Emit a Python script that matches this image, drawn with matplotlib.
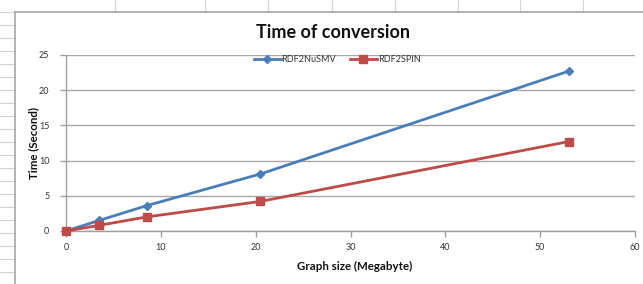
import matplotlib
matplotlib.use("Agg")
import matplotlib.pyplot as plt
from matplotlib.lines import Line2D

# Data
sizes = [0, 3.5, 8.5, 20.5, 53]
nusmv = [0, 1.5, 3.6, 8.1, 22.7]
spin = [0, 0.8, 2.0, 4.2, 12.7]
x_ticks = [0, 10, 20, 30, 40, 50, 60]
y_ticks = [0, 5, 10, 15, 20, 25]

W, H = 643, 284
fig = plt.figure(figsize=(W / 100, H / 100), dpi=100)
fig.patch.set_facecolor("white")
plt.rcParams['font.family'] = ['Lato', 'DejaVu Sans']

def fx(px):
    return px / W

def fy(py):
    return 1 - py / H

grid_c = "#d4d4d4"
# spreadsheet row ticks at left
for py in range(12, 284, 13):
    fig.add_artist(Line2D([fx(0), fx(15)], [fy(py), fy(py)], color=grid_c, lw=0.8))
# spreadsheet column ticks at top
for px in [115, 205, 268, 332, 395, 458, 520, 583]:
    fig.add_artist(Line2D([fx(px), fx(px)], [fy(0), fy(12)], color=grid_c, lw=0.8))
# chart border
fig.add_artist(Line2D([fx(15), fx(643)], [fy(12), fy(12)], color="#a6a6a6", lw=1.2))
fig.add_artist(Line2D([fx(15), fx(15)], [fy(12), fy(284)], color="#a6a6a6", lw=1.2))

ax = fig.add_axes([fx(66), fy(231), fx(635) - fx(66), fy(55) - fy(231)])
ax.set_xlim(0, 60)
ax.set_ylim(0, 25)
ax.set_xticks(x_ticks)
ax.set_yticks(y_ticks)
for s in ["top", "right"]:
    ax.spines[s].set_visible(False)
for s in ["left", "bottom"]:
    ax.spines[s].set_color("#a0a0a0")
    ax.spines[s].set_linewidth(1.0)
ax.yaxis.grid(True, color="#a8a8a8", lw=1.0)
ax.set_axisbelow(True)
ax.tick_params(axis="both", colors="#a0a0a0", labelcolor="#333333", labelsize=6.5,
               length=4, width=1.0)
ax.tick_params(axis="x", pad=5)
ax.tick_params(axis="y", pad=8)

ax.plot(sizes, nusmv, color="#4A7EBB", lw=2, marker="D", markersize=4.5,
        label="RDF2NuSMV", clip_on=False, zorder=3)
ax.plot(sizes, spin, color="#BE4B48", lw=2, marker="s", markersize=5.5,
        label="RDF2SPIN", clip_on=False, zorder=4)

fig.text(fx(333), fy(32), "Time of conversion", fontsize=13, fontweight="bold",
         ha="center", va="center", color="#111111")
fig.text(fx(355), fy(266), "Graph size (Megabyte)", fontsize=8.3, fontweight="bold",
         ha="center", va="center", color="#111111")
fig.text(fx(34), fy(143), "Time (Second)", fontsize=8.3, fontweight="bold",
         ha="center", va="center", rotation=90, color="#111111")

leg = ax.legend(ncol=2, loc="center", bbox_to_anchor=(fx(337) / 1, fy(60)),
                bbox_transform=fig.transFigure, frameon=False, fontsize=6.5,
                handlelength=3, handletextpad=0.1, columnspacing=1.5,
                borderpad=0)
for t in leg.get_texts():
    t.set_color("#333333")

fig.savefig("out.png", dpi=100, facecolor="white")
